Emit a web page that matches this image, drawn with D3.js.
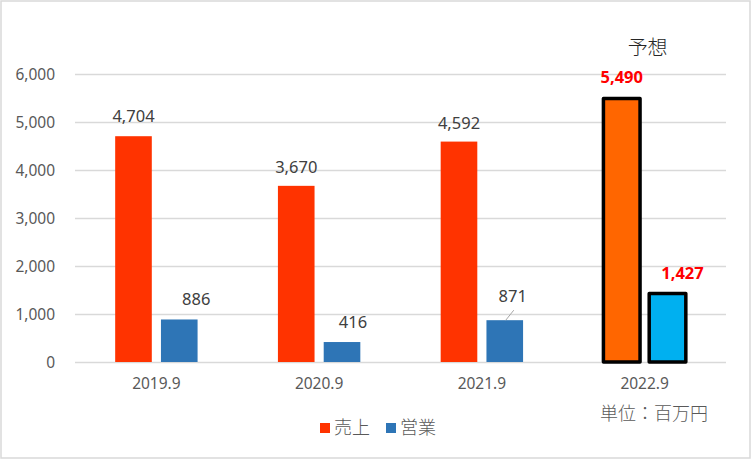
<!DOCTYPE html>
<html><head><meta charset="utf-8">
<script src="https://cdn.jsdelivr.net/npm/d3@7"></script>
<style>
html,body{margin:0;padding:0;background:#fff;}
svg{display:block;}
text{font-family:"Noto Sans","Noto Sans CJK JP",sans-serif;}
</style></head>
<body>
<svg id="chart" width="751" height="459"></svg>
<script>
const categories = ["2019.9","2020.9","2021.9","2022.9"];
const seriesNames = ["売上","営業"];
const sales = [4704, 3670, 4592, 5490];
const operating = [886, 416, 871, 1427];
const yTicks = [0,1000,2000,3000,4000,5000,6000];
const forecastLabel = "予想";
const unitLabel = "単位：百万円";

// styling (not data)
const normalColors = {"売上":"#FF3300","営業":"#2E75B6"};
const forecastColors = {"売上":"#FF6600","営業":"#00B0F0"};
const forecastIndex = 3;
const labelOffsets = {
  "売上":[[0,-14],[0,-13],[0,-13],[0,-15]],
  "営業":[[17,-14],[11,-14],[8,-18],[15,-15]]
};

(function(){
const svg = d3.select("#chart");
const W = 751, H = 459;
svg.append("rect").attr("x",1).attr("y",1).attr("width",W-2).attr("height",H-2)
  .attr("fill","#fff").attr("stroke","#D9D9D9").attr("stroke-width",1.5);

const pL = 75, pR = 726, pT = 74, pB = 362;
const y = d3.scaleLinear().domain([0,6000]).range([pB, pT]);
const x0 = d3.scaleBand().domain(categories).range([pL,pR]).padding(0);
const half = 41.2;

svg.append("g").selectAll("line").data(yTicks).join("line")
  .attr("x1",pL).attr("x2",pR)
  .attr("y1",d=>Math.round(y(d))+0.5).attr("y2",d=>Math.round(y(d))+0.5)
  .attr("stroke","#D9D9D9").attr("stroke-width",1.3);

const yAxis = d3.axisLeft(y).tickValues(yTicks).tickFormat(d3.format(",")).tickSize(0).tickPadding(0);
const yg = svg.append("g").attr("transform",`translate(${pL-20},0)`).call(yAxis);
yg.select(".domain").remove();
yg.selectAll("text").attr("fill","#595959").attr("font-size",15.5).attr("dy","0.35em");

const xAxis = d3.axisBottom(x0).tickSize(0).tickPadding(0);
const xg = svg.append("g").attr("transform",`translate(0,${pB+22})`).call(xAxis);
xg.select(".domain").remove();
xg.selectAll("text").attr("fill","#595959").attr("font-size",15.5).attr("dy","0.35em");
yg.attr("font-family",null); xg.attr("font-family",null);

const rows = categories.map((c,i)=>({cat:c,i,values:[{s:"売上",v:sales[i]},{s:"営業",v:operating[i]}]}));

rows.forEach(r=>{
  const cx = x0(r.cat)+x0.bandwidth()/2;
  const x1 = d3.scaleBand().domain(seriesNames).range([cx-half,cx+half]).paddingInner(0.2);
  const g = svg.append("g");
  r.values.forEach((d,j)=>{
    const isF = r.i===forecastIndex;
    const bx = x1(d.s), bw = x1.bandwidth();
    g.append("rect").attr("x",bx).attr("y",y(d.v)).attr("width",bw).attr("height",y(0)-y(d.v))
      .attr("fill", isF?forecastColors[d.s]:normalColors[d.s])
      .attr("stroke", isF?"#000":"none").attr("stroke-width", isF?3.5:0)
      .attr("stroke-linejoin","round");
    const off = labelOffsets[d.s][r.i];
    const lx = bx+bw/2+off[0], ly = y(d.v)+off[1];
    if(d.s==="営業" && r.i===2){
      g.append("line").attr("x1",bx+bw/2+1).attr("y1",y(d.v)).attr("x2",bx+bw/2+9).attr("y2",y(d.v)-10)
        .attr("stroke","#A6A6A6").attr("stroke-width",1);
    }
    g.append("text").attr("x",lx).attr("y",ly).attr("text-anchor","middle")
      .attr("font-size", 16.5)
      .attr("font-weight", isF?"bold":"normal")
      .attr("fill", isF?"#FF0000":"#404040")
      .text(d3.format(",")(d.v));
  });
});

svg.append("text").attr("x",x0(categories[forecastIndex])+x0.bandwidth()/2+3).attr("y",55)
  .attr("text-anchor","middle").attr("font-size",20).attr("font-weight",300).attr("fill","#262626")
  .attr("font-family","Noto Sans CJK JP").text(forecastLabel);

svg.append("text").attr("x",654).attr("y",420).attr("text-anchor","middle")
  .attr("font-size",18).attr("font-weight",300).attr("fill","#595959").attr("font-family","Noto Sans CJK JP").text(unitLabel);

const legend = svg.append("g").attr("transform","translate(320,428)");
const lxs = [0,66];
seriesNames.forEach((s,i)=>{
  legend.append("rect").attr("x",lxs[i]).attr("y",-5).attr("width",10).attr("height",10).attr("fill",normalColors[s]);
  legend.append("text").attr("x",lxs[i]+14).attr("y",0).attr("dy","0.35em").attr("font-size",18).attr("font-weight",300)
    .attr("fill","#595959").attr("font-family","Noto Sans CJK JP").text(s);
});
})();
</script>
</body></html>
